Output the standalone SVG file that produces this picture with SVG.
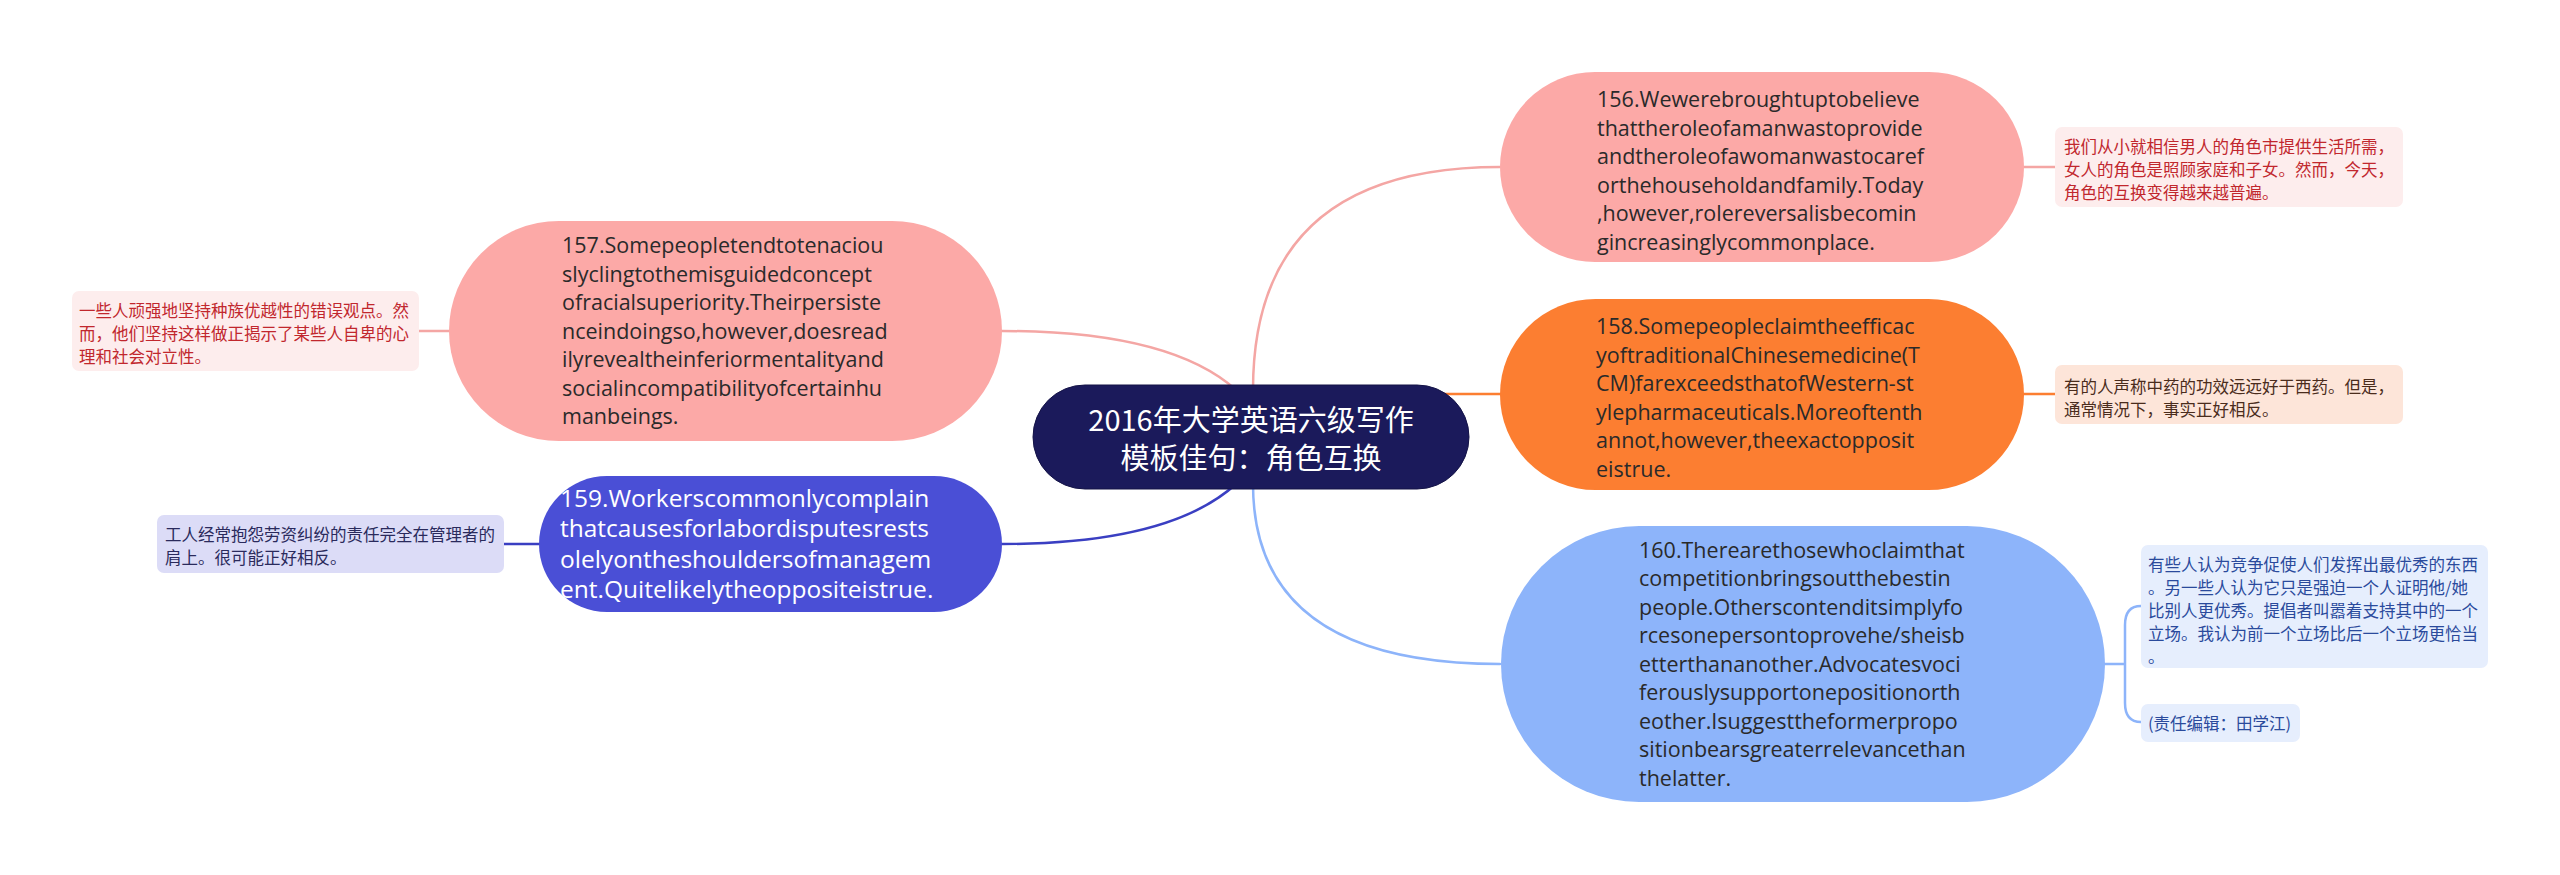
<svg xmlns="http://www.w3.org/2000/svg" width="2560" height="875" viewBox="0 0 2560 875">
<style>
.nt{font-family:"Open Sans","Noto Sans",sans-serif;font-size:21.5px;fill:#2a2a2a}
.nb{font-family:"Open Sans","Noto Sans",sans-serif;font-size:24.5px;fill:#ffffff}
.ct{font-family:"Noto Sans CJK SC",sans-serif;font-size:29px;fill:#ffffff;text-anchor:middle}
.lb{font-family:"Noto Sans CJK SC",sans-serif;font-size:16.5px}
.cn{fill:none;stroke-width:2.5;stroke-linecap:round}
</style>
<rect width="2560" height="875" fill="#ffffff"/>
<g id="connectors">
<path class="cn" stroke="#f4a6a4" d="M1002,331 Q1170,331 1236,390"/>
<path class="cn" stroke="#3a3fc2" d="M1002,544 Q1170,544 1236,484"/>
<path class="cn" stroke="#f4a6a4" d="M1253,390 Q1253,167 1500,167"/>
<path class="cn" stroke="#fc7e31" d="M1440,394 L1500,394"/>
<path class="cn" stroke="#8db4fa" d="M1253,484 Q1253,664 1500,664"/>
<path class="cn" stroke="#f4a6a4" d="M419,331 L450,331"/>
<path class="cn" stroke="#3a3fc2" d="M504,544 L540,544"/>
<path class="cn" stroke="#f4a6a4" d="M2024,167 L2055,167"/>
<path class="cn" stroke="#fc7e31" d="M2024,394 L2055,394"/>
<path class="cn" stroke="#8db4fa" d="M2104,664 L2125,664 M2141,606 Q2125,606 2125,625 L2125,703 Q2125,722 2141,722"/>
</g>
<g id="center">
<rect x="1033" y="385" width="436" height="104" rx="52" fill="#1b1a5b" stroke="#141347" stroke-width="1"/>
<text class="ct" x="1251" y="431">2016年大学英语六级写作</text>
<text class="ct" x="1251" y="469">模板佳句：角色互换</text>
</g>
<g id="n157">
<rect x="449" y="221" width="553" height="220" rx="110" fill="#fca9a7"/>
<text class="nt" x="562" y="253">157.Somepeopletendtotenaciou</text>
<text class="nt" x="562" y="281.5">slyclingtothemisguidedconcept</text>
<text class="nt" x="562" y="310">ofracialsuperiority.Theirpersiste</text>
<text class="nt" x="562" y="338.5">nceindoingso,however,doesread</text>
<text class="nt" x="562" y="367">ilyrevealtheinferiormentalityand</text>
<text class="nt" x="562" y="395.5">socialincompatibilityofcertainhu</text>
<text class="nt" x="562" y="424">manbeings.</text>
</g>
<g id="l157">
<rect x="72" y="291" width="347" height="80" rx="7" fill="#fdeded"/>
<text class="lb" fill="#c1272d" x="79" y="317">一些人顽强地坚持种族优越性的错误观点。然</text>
<text class="lb" fill="#c1272d" x="79" y="340">而，他们坚持这样做正揭示了某些人自卑的心</text>
<text class="lb" fill="#c1272d" x="79" y="363">理和社会对立性。</text>
</g>
<g id="n159">
<rect x="539" y="476" width="463" height="136" rx="68" fill="#4a4fd6"/>
<text class="nb" x="560" y="506.5">159.Workerscommonlycomplain</text>
<text class="nb" x="560" y="537">thatcausesforlabordisputesrests</text>
<text class="nb" x="560" y="567.5">olelyontheshouldersofmanagem</text>
<text class="nb" x="560" y="598">ent.Quitelikelytheoppositeistrue.</text>
</g>
<g id="l159">
<rect x="157" y="515" width="347" height="58" rx="7" fill="#dcdcf7"/>
<text class="lb" fill="#2a2a5c" x="165" y="541">工人经常抱怨劳资纠纷的责任完全在管理者的</text>
<text class="lb" fill="#2a2a5c" x="165" y="564">肩上。很可能正好相反。</text>
</g>
<g id="n156">
<rect x="1500" y="72" width="524" height="190" rx="95" fill="#fca9a7"/>
<text class="nt" x="1597" y="107">156.Wewerebroughtuptobelieve</text>
<text class="nt" x="1597" y="135.5">thattheroleofamanwastoprovide</text>
<text class="nt" x="1597" y="164">andtheroleofawomanwastocaref</text>
<text class="nt" x="1597" y="192.5">orthehouseholdandfamily.Today</text>
<text class="nt" x="1597" y="221">,however,rolereversalisbecomin</text>
<text class="nt" x="1597" y="249.5">gincreasinglycommonplace.</text>
</g>
<g id="l156">
<rect x="2055" y="127" width="348" height="80" rx="7" fill="#fdeded"/>
<text class="lb" fill="#c1272d" x="2064" y="153">我们从小就相信男人的角色市提供生活所需，</text>
<text class="lb" fill="#c1272d" x="2064" y="176">女人的角色是照顾家庭和子女。然而，今天，</text>
<text class="lb" fill="#c1272d" x="2064" y="199">角色的互换变得越来越普遍。</text>
</g>
<g id="n158">
<rect x="1500" y="299" width="524" height="191" rx="95.5" fill="#fc7e31"/>
<text class="nt" x="1596" y="334">158.Somepeopleclaimtheefficac</text>
<text class="nt" x="1596" y="362.5">yoftraditionalChinesemedicine(T</text>
<text class="nt" x="1596" y="391">CM)farexceedsthatofWestern-st</text>
<text class="nt" x="1596" y="419.5">ylepharmaceuticals.Moreoftenth</text>
<text class="nt" x="1596" y="448">annot,however,theexactopposit</text>
<text class="nt" x="1596" y="476.5">eistrue.</text>
</g>
<g id="l158">
<rect x="2055" y="365" width="348" height="59" rx="7" fill="#fde5d9"/>
<text class="lb" fill="#4a2c1c" x="2064" y="393">有的人声称中药的功效远远好于西药。但是，</text>
<text class="lb" fill="#4a2c1c" x="2064" y="416">通常情况下，事实正好相反。</text>
</g>
<g id="n160">
<rect x="1501" y="526" width="604" height="276" rx="138" fill="#8db4fa"/>
<text class="nt" fill="#1e2636" x="1639" y="557.5">160.Therearethosewhoclaimthat</text>
<text class="nt" fill="#1e2636" x="1639" y="586">competitionbringsoutthebestin</text>
<text class="nt" fill="#1e2636" x="1639" y="614.5">people.Otherscontenditsimplyfo</text>
<text class="nt" fill="#1e2636" x="1639" y="643">rcesonepersontoprovehe/sheisb</text>
<text class="nt" fill="#1e2636" x="1639" y="671.5">etterthananother.Advocatesvoci</text>
<text class="nt" fill="#1e2636" x="1639" y="700">ferouslysupportonepositionorth</text>
<text class="nt" fill="#1e2636" x="1639" y="728.5">eother.Isuggesttheformerpropo</text>
<text class="nt" fill="#1e2636" x="1639" y="757">sitionbearsgreaterrelevancethan</text>
<text class="nt" fill="#1e2636" x="1639" y="785.5">thelatter.</text>
</g>
<g id="l160a">
<rect x="2141" y="545" width="347" height="123" rx="7" fill="#e6eefd"/>
<text class="lb" fill="#2a4a9c" x="2148" y="571">有些人认为竞争促使人们发挥出最优秀的东西</text>
<text class="lb" fill="#2a4a9c" x="2148" y="594">。另一些人认为它只是强迫一个人证明他/她</text>
<text class="lb" fill="#2a4a9c" x="2148" y="617">比别人更优秀。提倡者叫嚣着支持其中的一个</text>
<text class="lb" fill="#2a4a9c" x="2148" y="640">立场。我认为前一个立场比后一个立场更恰当</text>
<text class="lb" fill="#2a4a9c" x="2148" y="663">。</text>
</g>
<g id="l160b">
<rect x="2141" y="704" width="159" height="38" rx="7" fill="#e6eefd"/>
<text class="lb" fill="#2a4a9c" x="2148" y="730">(责任编辑：田学江)</text>
</g>
</svg>
